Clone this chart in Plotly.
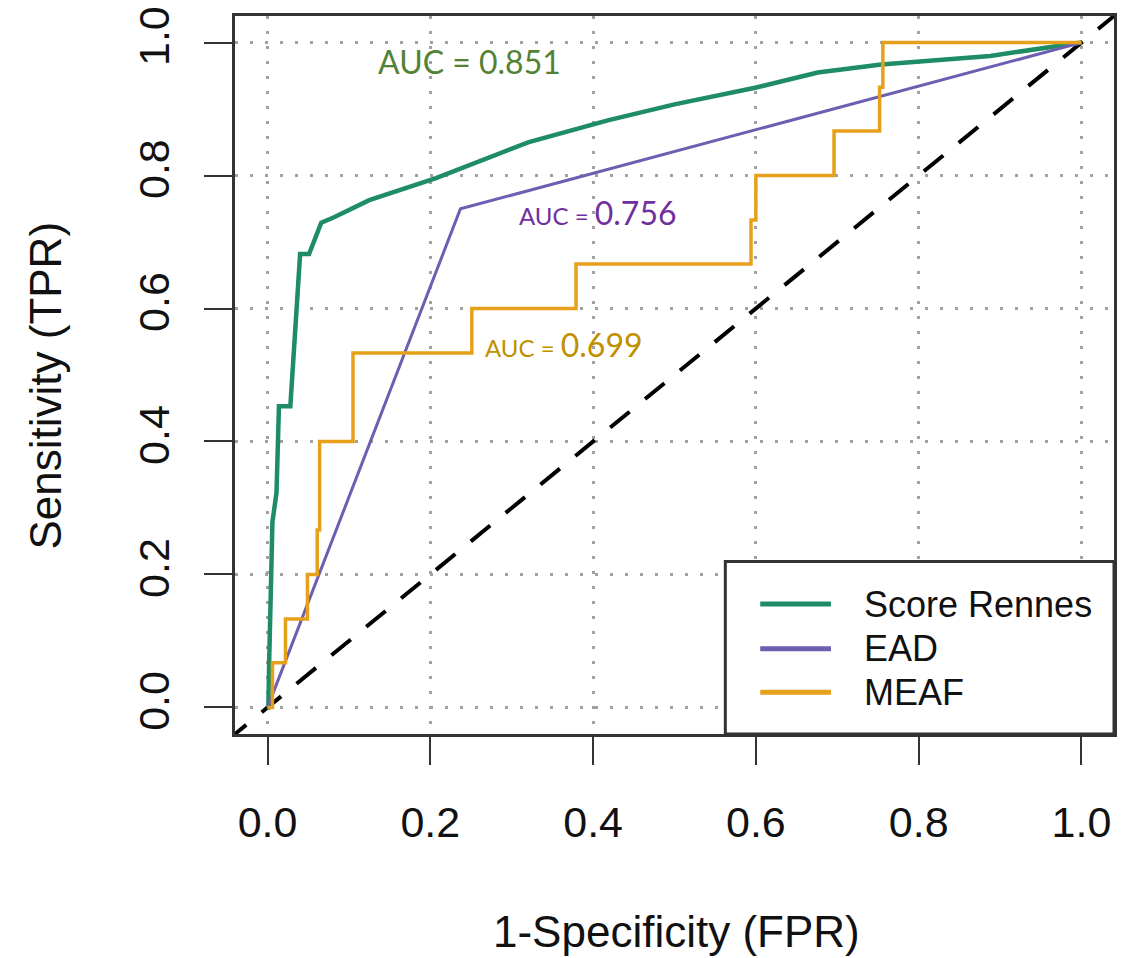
import plotly.graph_objects as go

# ---- data ----
rennes_fpr = [0.0, 0.001, 0.002, 0.006, 0.011, 0.014, 0.028, 0.040, 0.051, 0.066, 0.081,
              0.125, 0.207, 0.320, 0.418, 0.500, 0.599, 0.676, 0.754, 0.888, 1.0]
rennes_tpr = [0.0, 0.0, 0.07, 0.279, 0.323, 0.453, 0.453, 0.682, 0.682, 0.729, 0.737,
              0.763, 0.796, 0.850, 0.883, 0.907, 0.932, 0.955, 0.967, 0.980, 1.0]

ead_fpr = [0.0, 0.237, 1.0]
ead_tpr = [0.0, 0.750, 1.0]

meaf_fpr = [0.0, 0.006, 0.006, 0.022, 0.022, 0.049, 0.049, 0.061, 0.061, 0.064, 0.064,
            0.105, 0.105, 0.251, 0.251, 0.379, 0.379, 0.594, 0.594, 0.600, 0.600,
            0.696, 0.696, 0.752, 0.752, 0.756, 0.756, 1.0]
meaf_tpr = [0.0, 0.0, 0.067, 0.067, 0.133, 0.133, 0.200, 0.200, 0.267, 0.267, 0.400,
            0.400, 0.533, 0.533, 0.600, 0.600, 0.667, 0.667, 0.733, 0.733, 0.800,
            0.800, 0.867, 0.867, 0.933, 0.933, 1.0, 1.0]

chance_line = [-0.05, 1.05]

tick_vals = [0.0, 0.2, 0.4, 0.6, 0.8, 1.0]
tick_text = ["0.0", "0.2", "0.4", "0.6", "0.8", "1.0"]

series_names = ["Score Rennes", "EAD", "MEAF"]
auc_labels = ["0.851", "0.756", "0.699"]

# ---- styles ----
GREEN = "#1E8C64"
PURPLE = "#6A5FB0"
ORANGE = "#E6A01A"
FONT = "Liberation Sans, Arial, sans-serif"
AUC_FONT = "Lato, Carlito, Calibri, sans-serif"

fig = go.Figure()
fig.add_trace(go.Scatter(x=chance_line, y=chance_line, mode="lines", showlegend=False,
                         line=dict(color="black", width=4, dash="25px,20px"), hoverinfo="skip"))
fig.add_trace(go.Scatter(x=rennes_fpr, y=rennes_tpr, mode="lines", name=series_names[0],
                         line=dict(color=GREEN, width=4.5), showlegend=False))
fig.add_trace(go.Scatter(x=ead_fpr, y=ead_tpr, mode="lines", name=series_names[1],
                         line=dict(color=PURPLE, width=3), showlegend=False))
fig.add_trace(go.Scatter(x=meaf_fpr, y=meaf_tpr, mode="lines", name=series_names[2],
                         line=dict(color=ORANGE, width=3.5), showlegend=False))

axis_common = dict(
    range=[-0.04, 1.04], tickvals=tick_vals, ticktext=tick_text,
    showgrid=True, gridcolor="#a0a0a0", griddash="3px,12px", gridwidth=3,
    zeroline=False, showline=True, mirror=True, linecolor="#333333", linewidth=3,
    ticks="outside", ticklen=28, tickwidth=2, tickcolor="#333333",
    tickfont=dict(family=FONT, size=43, color="#111111"),
)
fig.update_xaxes(**axis_common, ticklabelstandoff=20)
fig.update_yaxes(**axis_common, tickangle=-90, ticklabelstandoff=18)

W_PLOT = 1123 - 235 - 6
H_PLOT = 958 - 10 - 224


def px_x(px):
    return (px - 235) / W_PLOT


def px_y(py):
    return (734 - py) / H_PLOT


annotations = [
    dict(text="1-Specificity (FPR)", x=px_x(678), y=px_y(933), xref="paper", yref="paper",
         xanchor="center", yanchor="middle",
         showarrow=False, font=dict(family=FONT, size=44, color="#111111")),
    dict(text="Sensitivity (TPR)", x=px_x(45), y=px_y(383), xref="paper", yref="paper",
         xanchor="center", yanchor="middle",
         textangle=-90, showarrow=False, font=dict(family=FONT, size=44, color="#111111")),
    dict(text="AUC = " + auc_labels[0], x=0.133, y=0.971, xref="x", yref="y",
         xanchor="left", yanchor="middle",
         showarrow=False, font=dict(family=AUC_FONT, size=32, color="#548235")),
    dict(text="AUC = <span style='font-size:32px'>" + auc_labels[1] + "</span>", x=0.307, y=0.745,
         xref="x", yref="y", xanchor="left", yanchor="middle", showarrow=False,
         font=dict(family=AUC_FONT, size=24, color="#7030A0")),
    dict(text="AUC = <span style='font-size:32px'>" + auc_labels[2] + "</span>", x=0.265, y=0.546,
         xref="x", yref="y", xanchor="left", yanchor="middle", showarrow=False,
         font=dict(family=AUC_FONT, size=24, color="#BF9000")),
]

shapes = [
    dict(type="rect", xref="paper", yref="paper", x0=px_x(727), x1=1.0, y0=0.0, y1=px_y(560),
         line=dict(color="#333333", width=3), fillcolor="white", layer="above"),
]
legend_rows = [603, 648, 692]
for name, color, row in zip(series_names, [GREEN, PURPLE, ORANGE], legend_rows):
    shapes.append(dict(type="line", xref="paper", yref="paper", x0=px_x(762), x1=px_x(833),
                       y0=px_y(row), y1=px_y(row), line=dict(color=color, width=5), layer="above"))
    annotations.append(dict(text=name, x=px_x(864), y=px_y(row), xref="paper", yref="paper",
                            xanchor="left", yanchor="middle", showarrow=False,
                            font=dict(family=FONT, size=36, color="#111111")))

fig.update_layout(
    width=1123, height=958, autosize=False,
    margin=dict(l=235, r=6, t=10, b=224),
    paper_bgcolor="white", plot_bgcolor="white",
    showlegend=False, annotations=annotations, shapes=shapes,
)

fig.write_html("out.html")
